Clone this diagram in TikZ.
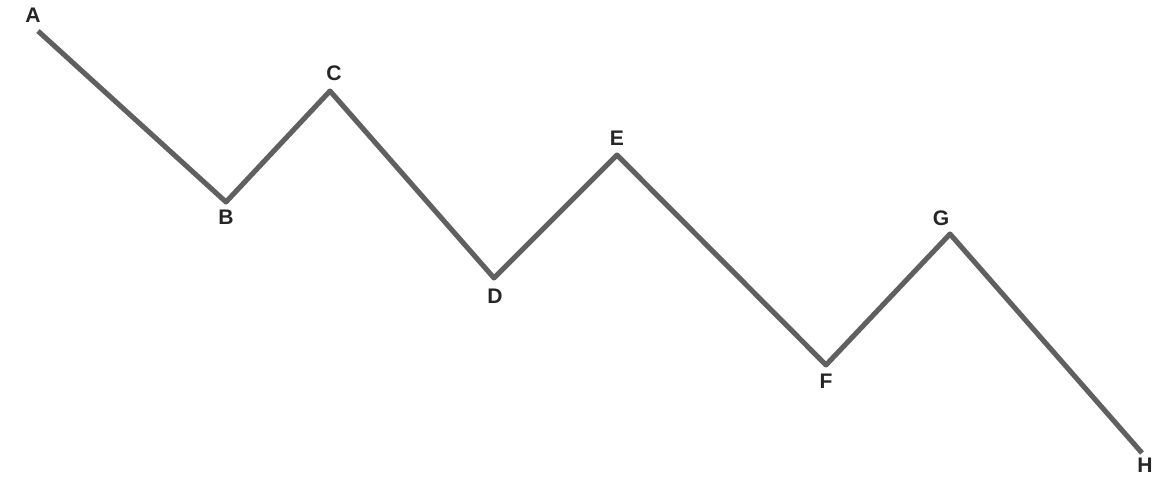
\documentclass[tikz,border=0pt]{standalone}
\usepackage{fontspec}
\setmainfont{Liberation Sans}
\usetikzlibrary{positioning}

\begin{document}
\begin{tikzpicture}[
    x=0.02cm, y=-0.02cm,
    wave/.style={draw=gray!75!black, line width=2.9pt, line join=round},
    ptlabel/.style={font=\bfseries\fontsize{12}{14}\selectfont, inner sep=0pt, text=black!85}
]

% frame
\useasboundingbox (0,0) rectangle (1156,479);

% ---------- Turning points ----------
\coordinate (pA) at (38,31);
\coordinate (pB) at (226,202);
\coordinate (pC) at (330,91);
\coordinate (pD) at (494,278);
\coordinate (pE) at (617,155);
\coordinate (pF) at (826,365);
\coordinate (pG) at (950,234);
\coordinate (pH) at (1142,453);

% ---------- Labels ----------
\node[ptlabel] (lA) at (33,15) {A};
\node[ptlabel] (lB) at (226,217) {B};
\node[ptlabel] (lC) at (334,73) {C};
\node[ptlabel] (lD) at (495,296) {D};
\node[ptlabel] (lE) at (617,138) {E};
\node[ptlabel] (lF) at (826,381) {F};
\node[ptlabel] (lG) at (941,218) {G};
\node[ptlabel] (lH) at (1145,465) {H};

% ---------- Zigzag ----------
\draw[wave] (pA) -- (pB) -- (pC) -- (pD) -- (pE) -- (pF) -- (pG) -- (pH);

\end{tikzpicture}
\end{document}
